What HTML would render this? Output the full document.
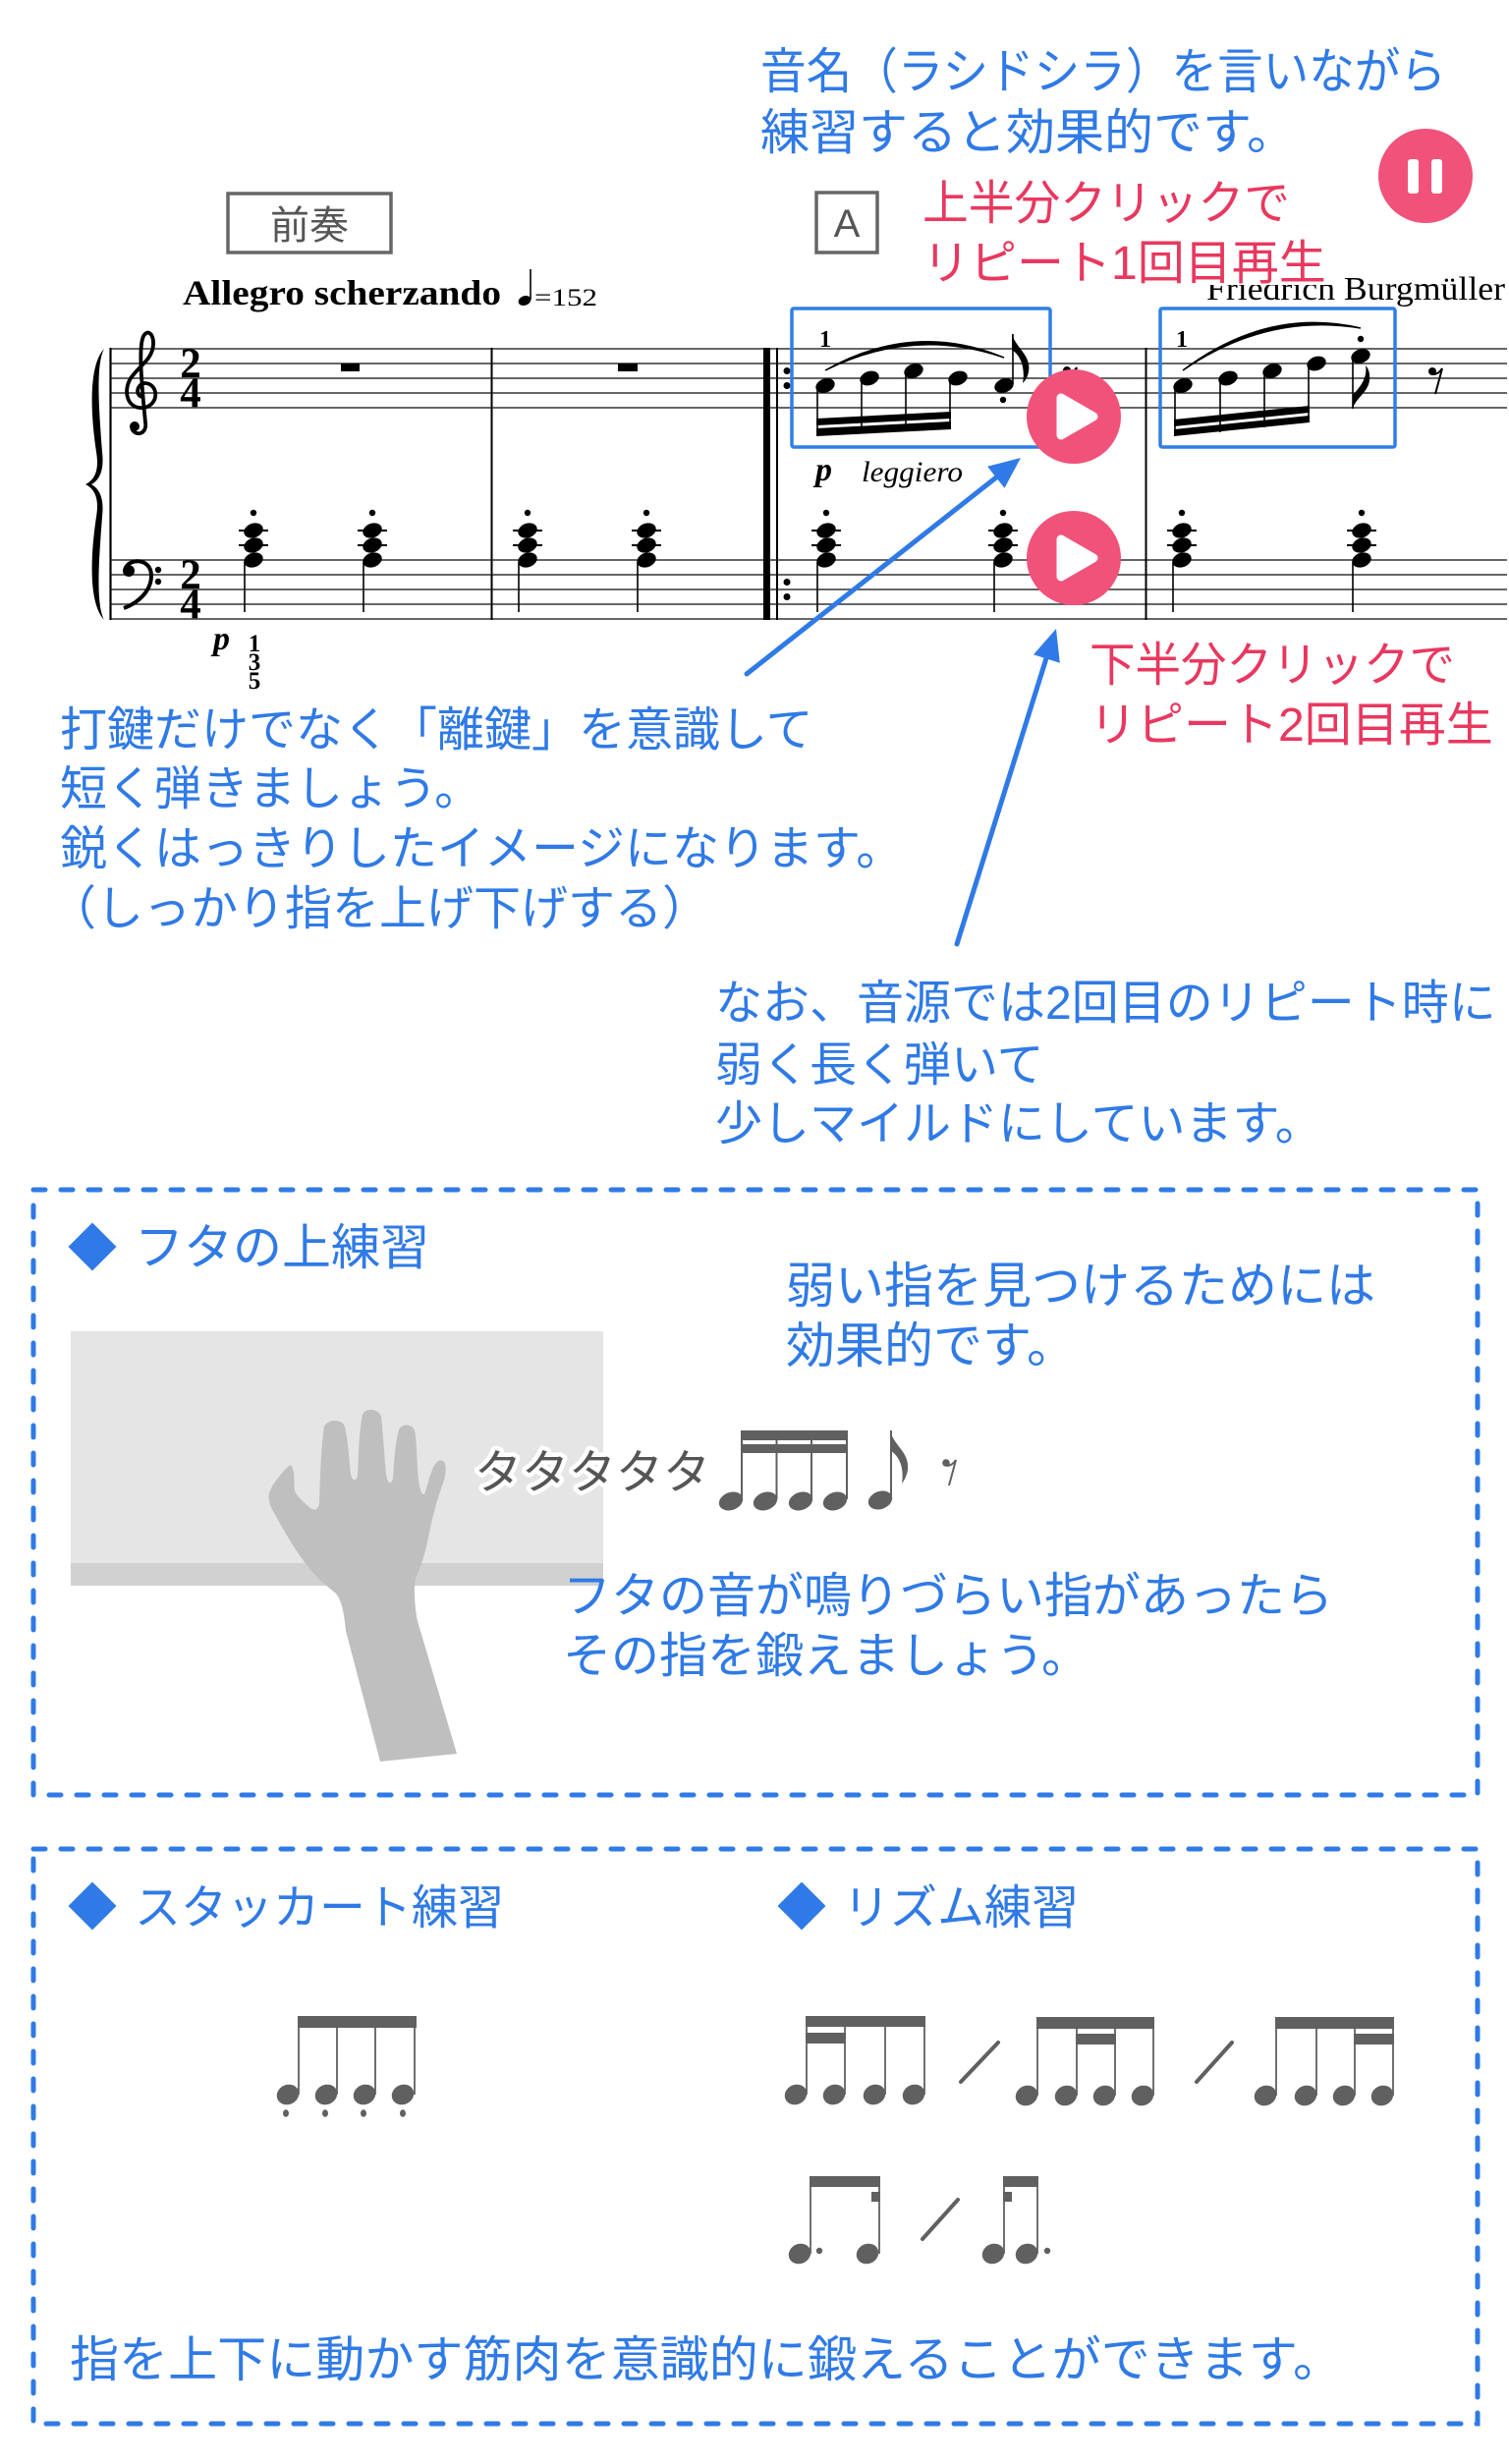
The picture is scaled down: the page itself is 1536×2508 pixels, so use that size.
<!DOCTYPE html>
<html><head><meta charset="utf-8"><style>
html,body{margin:0;padding:0;background:#fff;}
svg{display:block;}
.j{font-family:"Liberation Sans","Noto Sans CJK JP",sans-serif;font-size:48px;}
.k{font-size:50px;}
.k9{font-size:49px;}
.b{fill:#2f7ae6;}
.r{fill:#e8385f;}
.s{font-family:"Liberation Serif",serif;}
</style></head><body>
<svg width="1536" height="2508" viewBox="0 0 1536 2508" xmlns="http://www.w3.org/2000/svg">
<defs>
<g id="chord">
<line x1="-15" x2="15" y1="540" y2="540" stroke="#000" stroke-width="2"/>
<line x1="-15" x2="15" y1="555" y2="555" stroke="#000" stroke-width="2"/>
<ellipse cx="0" cy="540" rx="10" ry="7.3" transform="rotate(-20 0 540)"/>
<ellipse cx="0" cy="555" rx="10" ry="7.3" transform="rotate(-20 0 555)"/>
<ellipse cx="0" cy="570" rx="10" ry="7.3" transform="rotate(-20 0 570)"/>
<line x1="-9" x2="-9" y1="572" y2="623" stroke="#000" stroke-width="1.6"/>
<circle cx="0" cy="522" r="3.2"/>
</g>
<g id="rest8">
<circle cx="3" cy="4" r="4"/>
<path d="M4,7 Q9,7 13,1 L6,27" stroke="#000" stroke-width="2" fill="none"/>
</g>
</defs>

<!-- top blue text -->
<text class="j k b" x="774" y="90" textLength="698" lengthAdjust="spacingAndGlyphs">音名（ラシドシラ）を言いながら</text>
<text class="j k b" x="774" y="152">練習すると効果的です。</text>

<!-- pause button -->
<circle cx="1451" cy="179" r="48" fill="#f1527a"/>
<rect x="1433" y="162" width="11" height="35" rx="3" fill="#fff"/>
<rect x="1457" y="162" width="11" height="35" rx="3" fill="#fff"/>

<!-- 前奏 box -->
<rect x="232" y="197" width="166" height="60" fill="none" stroke="#666" stroke-width="3.5"/>
<text class="j" x="315" y="243" fill="#555" text-anchor="middle" style="font-size:40px">前奏</text>
<!-- A box -->
<rect x="831" y="196" width="62" height="61" fill="none" stroke="#666" stroke-width="3.5"/>
<text x="862" y="241" font-family="Liberation Sans, sans-serif" font-size="40" fill="#555" text-anchor="middle">A</text>

<!-- Composer -->
<text class="s" x="1228" y="305" font-size="34" textLength="304" lengthAdjust="spacingAndGlyphs">Friedrich Burgmüller</text>
<rect x="1220" y="232" width="137" height="58" fill="#fff"/>
<!-- red text -->
<text class="j r" x="939" y="223" textLength="374" lengthAdjust="spacingAndGlyphs">上半分クリックで</text>
<text class="j r" x="939" y="284">リピート1回目再生</text>

<!-- tempo -->
<text class="s" x="186" y="310" font-size="36" font-weight="bold" textLength="324" lengthAdjust="spacingAndGlyphs">Allegro scherzando</text>
<ellipse cx="534" cy="306" rx="6.5" ry="4.8" transform="rotate(-20 534 306)"/>
<line x1="540" x2="540" y1="274" y2="305" stroke="#000" stroke-width="1.6"/>
<text class="s" x="544" y="311" font-size="25" textLength="64" lengthAdjust="spacingAndGlyphs">=152</text>

<!-- staves -->
<g stroke="#333" stroke-width="1.6">
<line x1="112" x2="1534" y1="355" y2="355"/>
<line x1="112" x2="1534" y1="370" y2="370"/>
<line x1="112" x2="1534" y1="385" y2="385"/>
<line x1="112" x2="1534" y1="400" y2="400"/>
<line x1="112" x2="1534" y1="415" y2="415"/>
<line x1="112" x2="1534" y1="570" y2="570"/>
<line x1="112" x2="1534" y1="585" y2="585"/>
<line x1="112" x2="1534" y1="600" y2="600"/>
<line x1="112" x2="1534" y1="615" y2="615"/>
<line x1="112" x2="1534" y1="630" y2="630"/>
</g>
<g stroke="#000">
<line x1="112.5" x2="112.5" y1="354" y2="631" stroke-width="2.2"/>
<line x1="500.5" x2="500.5" y1="354" y2="631" stroke-width="2"/>
<line x1="1166.5" x2="1166.5" y1="354" y2="631" stroke-width="2"/>
<line x1="791" x2="791" y1="354" y2="631" stroke-width="2"/>
</g>
<rect x="777" y="354" width="7" height="277" fill="#000"/>
<circle cx="801" cy="377.5" r="3.5"/><circle cx="801" cy="392.5" r="3.5"/>
<circle cx="801" cy="592.5" r="3.5"/><circle cx="801" cy="607.5" r="3.5"/>

<!-- brace -->
<path d="M106,355 C90,372 92,420 98,460 C101,478 97,488 87,493 C97,498 101,508 98,526 C92,566 90,614 106,631 C97,614 101,566 104,526 C106,508 102,498 93,493 C102,488 106,478 104,460 C101,420 97,372 106,355 Z" fill="#000"/>

<!-- treble clef -->
<path d="M146,404 C138,404 138,392 147,390 C161,390 163,411 147,415 C129,417 125,398 133,385 C142,372 155,366 156,351 C157,338 148,334 145,345 C142,356 143,380 148,430 C150,442 138,445 134,436" fill="none" stroke="#000" stroke-width="3.8"/>
<circle cx="137" cy="434" r="5"/>
<!-- bass clef -->
<circle cx="131" cy="581" r="6"/>
<path d="M127,582 C127,568 154,566 154,586 C154,602 140,614 126,619" fill="none" stroke="#000" stroke-width="4"/>
<circle cx="161" cy="580" r="3.2"/><circle cx="161" cy="592" r="3.2"/>

<!-- time signatures -->
<g class="s" font-size="43" font-weight="bold" text-anchor="middle">
<text x="194" y="384">2</text><text x="194" y="414">4</text>
<text x="194" y="599">2</text><text x="194" y="629">4</text>
</g>

<!-- measure rests -->
<rect x="347" y="370" width="19" height="8"/>
<rect x="629" y="370" width="20" height="8"/>

<!-- bass chords -->
<use href="#chord" x="258"/><use href="#chord" x="379"/>
<use href="#chord" x="537"/><use href="#chord" x="658"/>
<use href="#chord" x="841"/><use href="#chord" x="1021"/>
<use href="#chord" x="1203"/><use href="#chord" x="1386"/>

<!-- dynamics m1 -->
<text class="s" x="217" y="661" font-size="34" font-weight="bold" font-style="italic">p</text>
<g class="s" font-size="25" font-weight="bold" text-anchor="middle">
<text x="259" y="663">1</text><text x="259" y="682">3</text><text x="259" y="701">5</text>
</g>

<!-- measure 3 treble -->
<g>
<ellipse cx="840" cy="392.5" rx="10" ry="7" transform="rotate(-20 840 392.5)"/>
<ellipse cx="885" cy="385" rx="10" ry="7" transform="rotate(-20 885 385)"/>
<ellipse cx="930" cy="377.5" rx="10" ry="7" transform="rotate(-20 930 377.5)"/>
<ellipse cx="975" cy="385" rx="10" ry="7" transform="rotate(-20 975 385)"/>
<ellipse cx="1022" cy="392.5" rx="10" ry="7" transform="rotate(-20 1022 392.5)"/>
<g stroke="#000" stroke-width="1.6">
<line x1="832" x2="832" y1="394" y2="443"/>
<line x1="877" x2="877" y1="387" y2="441"/>
<line x1="922" x2="922" y1="380" y2="439"/>
<line x1="967" x2="967" y1="387" y2="437"/>
<line x1="1031" x2="1031" y1="340" y2="391"/>
</g>
<polygon points="831,426 968,419 968,426 831,433"/>
<polygon points="831,436 968,429 968,437 831,444"/>
<path d="M1030,340 C1034,354 1050,362 1047,378 C1046,384 1044,387 1041,390 C1043,380 1042,364 1030,356 Z"/>
<circle cx="1021" cy="407" r="3.2"/>
<path d="M840,377 Q930,326 1022,364 Q930,332 840,377 Z" stroke="#000" stroke-width="1.5"/>
<text class="s" x="840" y="353" font-size="24" font-weight="bold" text-anchor="middle">1</text>
<use href="#rest8" x="1083" y="373"/>
</g>
<text class="s" x="830" y="489" font-size="34" font-weight="bold" font-style="italic">p</text>
<text class="s" x="877" y="490" font-size="30" font-style="italic" textLength="103" lengthAdjust="spacingAndGlyphs">leggiero</text>

<!-- measure 4 treble -->
<g>
<ellipse cx="1204" cy="392.5" rx="10" ry="7" transform="rotate(-20 1204 392.5)"/>
<ellipse cx="1250" cy="385" rx="10" ry="7" transform="rotate(-20 1250 385)"/>
<ellipse cx="1295" cy="377.5" rx="10" ry="7" transform="rotate(-20 1295 377.5)"/>
<ellipse cx="1340" cy="370" rx="10" ry="7" transform="rotate(-20 1340 370)"/>
<ellipse cx="1385" cy="362.5" rx="10" ry="7" transform="rotate(-20 1385 362.5)"/>
<g stroke="#000" stroke-width="1.6">
<line x1="1196" x2="1196" y1="394" y2="444"/>
<line x1="1242" x2="1242" y1="387" y2="440"/>
<line x1="1287" x2="1287" y1="380" y2="435"/>
<line x1="1332" x2="1332" y1="372" y2="430"/>
<line x1="1377" x2="1377" y1="364" y2="416"/>
</g>
<polygon points="1195,427 1333,413 1333,420 1195,434"/>
<polygon points="1195,437 1333,423 1333,430 1195,444"/>
<path d="M1377,416 C1380,404 1396,398 1394,382 C1394,378 1392,374 1390,372 C1392,384 1386,392 1377,402 Z"/>
<circle cx="1385" cy="345" r="3.2"/>
<path d="M1204,377 Q1290,312 1385,334 Q1290,318 1204,377 Z" stroke="#000" stroke-width="1.5"/>
<text class="s" x="1203" y="353" font-size="24" font-weight="bold" text-anchor="middle">1</text>
<use href="#rest8" x="1455" y="374"/>
</g>

<!-- blue boxes -->
<rect x="806" y="314" width="263" height="141" rx="2" fill="none" stroke="#2f7ee8" stroke-width="3.5"/>
<rect x="1181" y="314" width="239" height="141" rx="2" fill="none" stroke="#2f7ee8" stroke-width="3.5"/>

<!-- play buttons -->
<circle cx="1093" cy="424" r="48" fill="#f1527a"/>
<polygon points="1080,405 1080,443 1113,424" fill="#fff" stroke="#fff" stroke-width="9" stroke-linejoin="round"/>
<circle cx="1093" cy="568" r="48" fill="#f1527a"/>
<polygon points="1080,549 1080,587 1113,568" fill="#fff" stroke="#fff" stroke-width="9" stroke-linejoin="round"/>

<!-- arrows -->
<line x1="760" y1="686" x2="1014" y2="486" stroke="#2f7ae6" stroke-width="5" stroke-linecap="round"/>
<polygon points="1039,466 1022.5,496.8 1005.1,474.8" fill="#2f7ae6"/>
<line x1="974" y1="961" x2="1065" y2="670" stroke="#2f7ae6" stroke-width="5" stroke-linecap="round"/>
<polygon points="1075,640 1078.8,674.7 1052,666.3" fill="#2f7ae6"/>

<!-- left explanation -->
<text class="j b" x="61" y="759">打鍵だけでなく「離鍵」を意識して</text>
<text class="j b" x="61" y="819">短く弾きましょう。</text>
<text class="j b" x="61" y="880">鋭くはっきりしたイメージになります。</text>
<text class="j b" x="50" y="941">（しっかり指を上げ下げする）</text>

<!-- lower red -->
<text class="j r" x="1109" y="693" textLength="372" lengthAdjust="spacingAndGlyphs">下半分クリックで</text>
<text class="j r" x="1109" y="754">リピート2回目再生</text>

<!-- なお -->
<text class="j b" x="728" y="1037">なお、音源では2回目のリピート時に</text>
<text class="j b" x="728" y="1100">弱く長く弾いて</text>
<text class="j b" x="728" y="1160">少しマイルドにしています。</text>

<!-- dashed box 1 -->
<rect x="34" y="1211" width="1470" height="616" fill="none" stroke="#2f7ae6" stroke-width="5" stroke-dasharray="12 16" stroke-linecap="round"/>
<polygon points="94,1244.5 118.5,1269 94,1293.5 69.5,1269" fill="#2f7ae6"/>
<text class="j k b" x="137" y="1287">フタの上練習</text>
<text class="j k b" x="800" y="1326">弱い指を見つけるためには</text>
<text class="j k b" x="800" y="1387">効果的です。</text>

<rect x="72" y="1355" width="542" height="236" fill="#e5e5e5"/>
<rect x="72" y="1591" width="542" height="23" fill="#d1d1d1"/>
<path d="M293,1493 C286,1500 278,1510 275,1517 C272,1524 274,1532 279,1540 C288,1556 298,1574 310,1590 C320,1604 332,1614 342,1622 C348,1630 350,1640 352,1660 L387,1793 L465,1785 L425,1650 C422,1636 421,1616 423,1607 C428,1596 433,1580 436,1565 C440,1545 444,1530 448,1518 C452,1508 456,1495 452,1488 C448,1484 443,1488 440,1496 C436,1506 434,1516 432,1521 C428,1522 426,1510 425,1495 C424,1478 424,1465 422,1456 C420,1450 410,1448 406,1455 C402,1470 401,1490 400,1505 C398,1512 394,1510 393,1500 C391,1480 390,1460 388,1442 C386,1434 372,1432 369,1440 C365,1460 365,1485 364,1502 C363,1508 358,1508 357,1500 C355,1480 354,1466 351,1452 C348,1444 334,1444 330,1452 C327,1470 326,1500 325,1530 C324,1537 320,1538 316,1535 C310,1530 303,1524 300,1518 C299,1510 300,1500 298,1495 C297,1490 295,1491 293,1493 Z" fill="#bfbfbf"/>

<text class="j" x="483" y="1515" fill="#555" stroke="#fff" stroke-width="9" stroke-linejoin="round" paint-order="stroke">タタタタタ</text>

<!-- rhythm in box1 -->
<g fill="#606060">
<ellipse cx="744" cy="1528" rx="12.5" ry="9" transform="rotate(-20 744 1528)"/>
<ellipse cx="779" cy="1528" rx="12.5" ry="9" transform="rotate(-20 779 1528)"/>
<ellipse cx="815" cy="1528" rx="12.5" ry="9" transform="rotate(-20 815 1528)"/>
<ellipse cx="850" cy="1528" rx="12.5" ry="9" transform="rotate(-20 850 1528)"/>
<ellipse cx="896" cy="1527" rx="12.5" ry="9" transform="rotate(-20 896 1527)"/>
<rect x="754" y="1456" width="109" height="10"/>
<rect x="754" y="1470" width="109" height="9"/>
<g stroke="#606060" stroke-width="2">
<line x1="755" x2="755" y1="1456" y2="1526"/>
<line x1="790.5" x2="790.5" y1="1456" y2="1526"/>
<line x1="826" x2="826" y1="1456" y2="1526"/>
<line x1="862" x2="862" y1="1456" y2="1526"/>
<line x1="907" x2="907" y1="1456" y2="1525"/>
</g>
<path d="M906,1456 C910,1472 926,1478 924,1496 C923,1502 921,1506 918,1510 C920,1498 918,1484 906,1476 Z"/>
<circle cx="963" cy="1489" r="3.8"/>
<path d="M964,1492 Q969,1492 973,1486 L966,1512" stroke="#606060" stroke-width="2" fill="none"/>
</g>

<text class="j k9 b" x="573" y="1641">フタの音が鳴りづらい指があったら</text>
<text class="j k9 b" x="573" y="1702">その指を鍛えましょう。</text>

<!-- dashed box 2 -->
<rect x="34" y="1882" width="1470" height="585" fill="none" stroke="#2f7ae6" stroke-width="5" stroke-dasharray="12 16" stroke-linecap="round"/>
<polygon points="94,1915.5 118.5,1940 94,1964.5 69.5,1940" fill="#2f7ae6"/>
<text class="j b" x="137" y="1958" textLength="376" lengthAdjust="spacingAndGlyphs">スタッカート練習</text>
<polygon points="816,1915.5 840.5,1940 816,1964.5 791.5,1940" fill="#2f7ae6"/>
<text class="j b" x="858" y="1958">リズム練習</text>

<g fill="#606060">
<!-- staccato -->
<rect x="303" y="2052" width="121" height="12"/>
<g stroke="#606060" stroke-width="1.8">
<line x1="304" x2="304" y1="2052" y2="2132"/><line x1="343" x2="343" y1="2052" y2="2132"/>
<line x1="382" x2="382" y1="2052" y2="2132"/><line x1="422" x2="422" y1="2052" y2="2132"/>
</g>
<ellipse cx="293" cy="2132" rx="11.5" ry="10" transform="rotate(-25 293 2132)"/>
<ellipse cx="332" cy="2132" rx="11.5" ry="10" transform="rotate(-25 332 2132)"/>
<ellipse cx="371" cy="2132" rx="11.5" ry="10" transform="rotate(-25 371 2132)"/>
<ellipse cx="410" cy="2132" rx="11.5" ry="10" transform="rotate(-25 410 2132)"/>
<ellipse cx="291" cy="2151" rx="3" ry="3.8"/><ellipse cx="331" cy="2151" rx="3" ry="3.8"/>
<ellipse cx="370" cy="2151" rx="3" ry="3.8"/><ellipse cx="410" cy="2151" rx="3" ry="3.8"/>

<!-- rhythm group 1 -->
<rect x="820" y="2052" width="122" height="11"/>
<rect x="820" y="2069" width="41" height="11"/>
<g stroke="#606060" stroke-width="1.8">
<line x1="821" x2="821" y1="2052" y2="2132"/><line x1="860" x2="860" y1="2052" y2="2132"/>
<line x1="901" x2="901" y1="2052" y2="2132"/><line x1="941" x2="941" y1="2052" y2="2132"/>
</g>
<ellipse cx="810" cy="2132" rx="11.5" ry="10" transform="rotate(-25 810 2132)"/>
<ellipse cx="849" cy="2132" rx="11.5" ry="10" transform="rotate(-25 849 2132)"/>
<ellipse cx="890" cy="2132" rx="11.5" ry="10" transform="rotate(-25 890 2132)"/>
<ellipse cx="930" cy="2132" rx="11.5" ry="10" transform="rotate(-25 930 2132)"/>
<line x1="978" y1="2119" x2="1016" y2="2079" stroke="#606060" stroke-width="4" stroke-linecap="round"/>

<!-- group 2 -->
<rect x="1055" y="2053" width="120" height="12"/>
<rect x="1095" y="2070" width="41" height="11"/>
<g stroke="#606060" stroke-width="1.8">
<line x1="1056" x2="1056" y1="2053" y2="2133"/><line x1="1096" x2="1096" y1="2053" y2="2133"/>
<line x1="1135" x2="1135" y1="2053" y2="2133"/><line x1="1174" x2="1174" y1="2053" y2="2133"/>
</g>
<ellipse cx="1045" cy="2133" rx="11.5" ry="10" transform="rotate(-25 1045 2133)"/>
<ellipse cx="1085" cy="2133" rx="11.5" ry="10" transform="rotate(-25 1085 2133)"/>
<ellipse cx="1124" cy="2133" rx="11.5" ry="10" transform="rotate(-25 1124 2133)"/>
<ellipse cx="1163" cy="2133" rx="11.5" ry="10" transform="rotate(-25 1163 2133)"/>
<line x1="1218" y1="2119" x2="1254" y2="2079" stroke="#606060" stroke-width="4" stroke-linecap="round"/>

<!-- group 3 -->
<rect x="1298" y="2053" width="121" height="12"/>
<rect x="1378" y="2070" width="41" height="11"/>
<g stroke="#606060" stroke-width="1.8">
<line x1="1299" x2="1299" y1="2053" y2="2133"/><line x1="1340" x2="1340" y1="2053" y2="2133"/>
<line x1="1379" x2="1379" y1="2053" y2="2133"/><line x1="1418" x2="1418" y1="2053" y2="2133"/>
</g>
<ellipse cx="1288" cy="2133" rx="11.5" ry="10" transform="rotate(-25 1288 2133)"/>
<ellipse cx="1329" cy="2133" rx="11.5" ry="10" transform="rotate(-25 1329 2133)"/>
<ellipse cx="1368" cy="2133" rx="11.5" ry="10" transform="rotate(-25 1368 2133)"/>
<ellipse cx="1407" cy="2133" rx="11.5" ry="10" transform="rotate(-25 1407 2133)"/>

<!-- row 2 group A -->
<rect x="824" y="2215" width="72" height="11"/>
<rect x="887" y="2231" width="9" height="10"/>
<g stroke="#606060" stroke-width="1.8">
<line x1="825" x2="825" y1="2215" y2="2294"/><line x1="895" x2="895" y1="2215" y2="2294"/>
</g>
<ellipse cx="814" cy="2294" rx="11.5" ry="10" transform="rotate(-25 814 2294)"/>
<ellipse cx="883" cy="2294" rx="11.5" ry="10" transform="rotate(-25 883 2294)"/>
<circle cx="834" cy="2291" r="3.2"/>
<line x1="939" y1="2279" x2="975" y2="2239" stroke="#606060" stroke-width="4" stroke-linecap="round"/>

<!-- row 2 group B -->
<rect x="1021" y="2215" width="36" height="11"/>
<rect x="1021" y="2231" width="9" height="10"/>
<g stroke="#606060" stroke-width="1.8">
<line x1="1022" x2="1022" y1="2215" y2="2294"/><line x1="1056" x2="1056" y1="2215" y2="2294"/>
</g>
<ellipse cx="1011" cy="2294" rx="11.5" ry="10" transform="rotate(-25 1011 2294)"/>
<ellipse cx="1045" cy="2294" rx="11.5" ry="10" transform="rotate(-25 1045 2294)"/>
<circle cx="1066" cy="2291" r="3.2"/>
</g>

<text class="j k b" x="71" y="2419" textLength="1295" lengthAdjust="spacingAndGlyphs">指を上下に動かす筋肉を意識的に鍛えることができます。</text>
</svg>
</body></html>
